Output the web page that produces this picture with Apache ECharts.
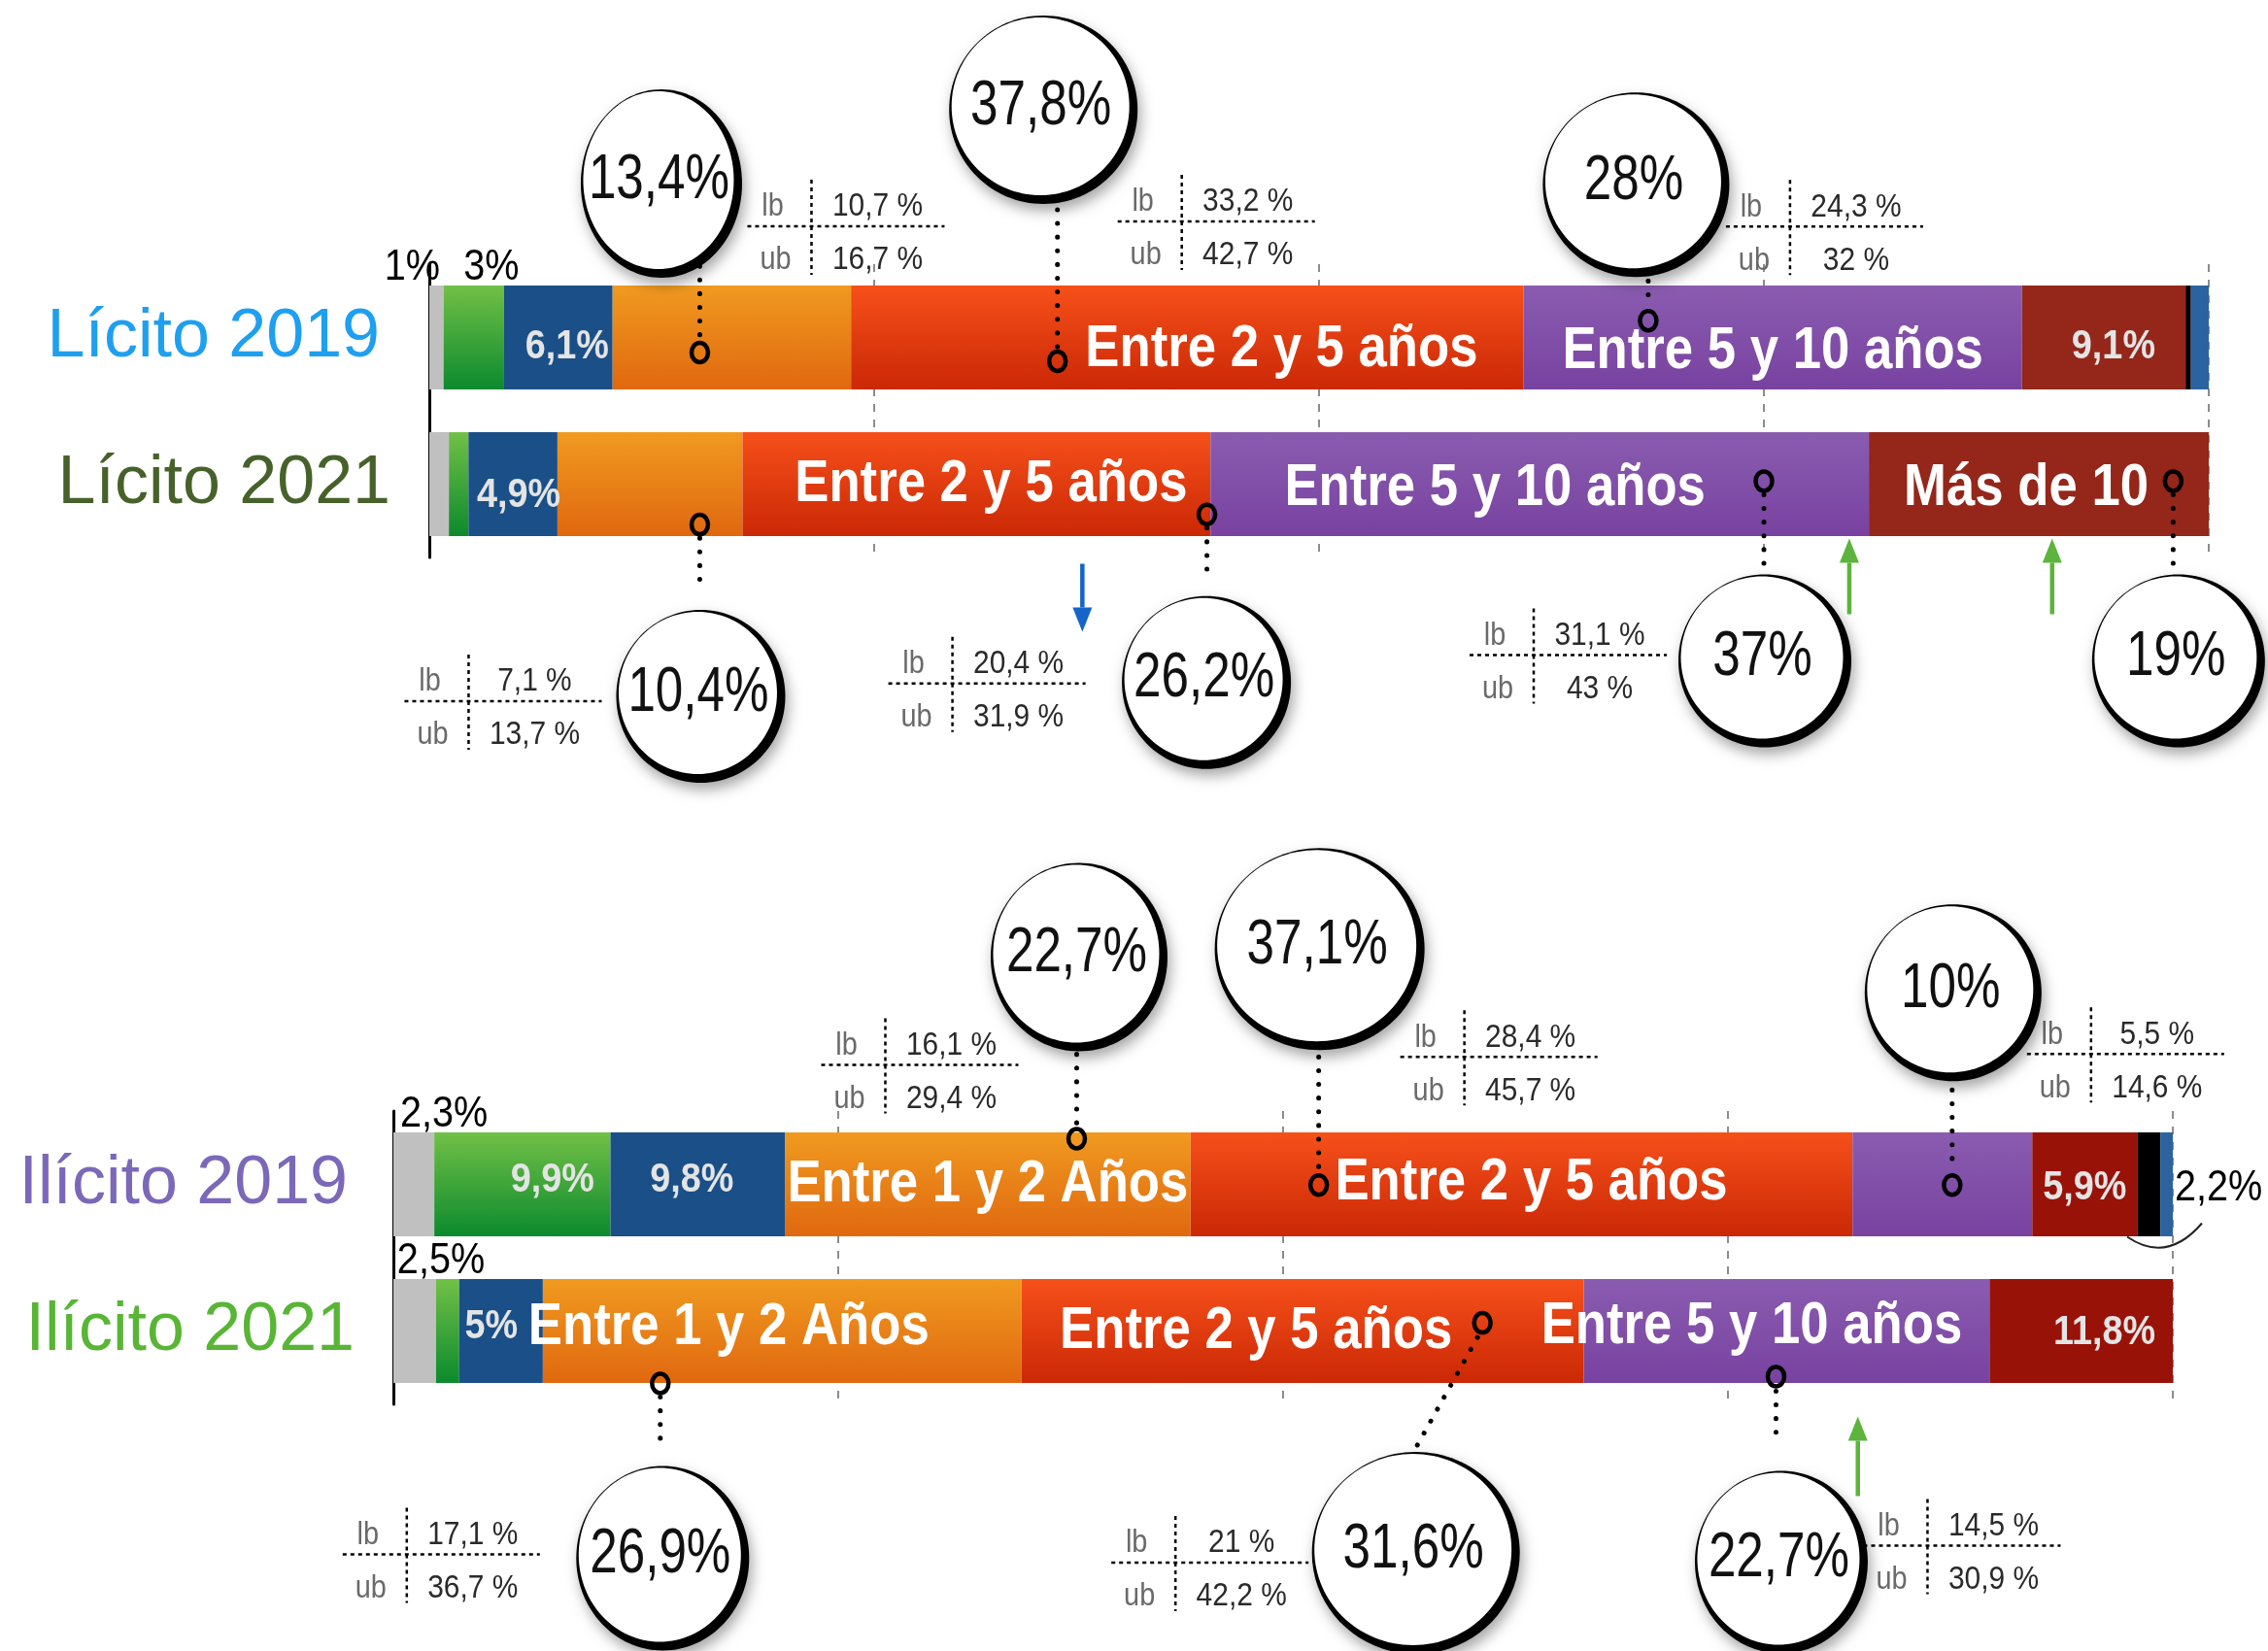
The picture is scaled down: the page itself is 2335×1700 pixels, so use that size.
<!DOCTYPE html>
<html><head><meta charset="utf-8">
<script src="https://cdn.jsdelivr.net/npm/echarts@6/dist/echarts.min.js"></script>
<style>html,body{margin:0;padding:0;background:#fff}#c{width:2335px;height:1700px}</style>
</head><body><div id="c"></div>
<script>
// ---------------- DATA ----------------
const segmentNames = ['Menos de 1 mes','Entre 1 y 6 meses','Entre 6 meses y 1 año','Entre 1 y 2 Años','Entre 2 y 5 años','Entre 5 y 10 años','Más de 10','Perpetua','Otro'];
const topCategories = ['Lícito 2019','Lícito 2021'];
const bottomCategories = ['Ilícito 2019','Ilícito 2021'];

const licito2019  = [0.8, 3.4, 6.1, 13.4, 37.8, 28.0, 9.2, 0.3, 1.0];
const licito2021  = [1.1, 1.1, 5.0, 10.4, 26.3, 37.0, 19.1, 0, 0];
const ilicito2019 = [2.3, 9.9, 9.8, 22.8, 37.2, 10.1, 5.9, 1.3, 0.7];
const ilicito2021 = [2.4, 1.3, 4.7, 26.9, 31.6, 22.8, 10.3, 0, 0];

const licito2019Labels  = ['1%','3%','6,1%','','Entre 2 y 5 años','Entre 5 y 10 años','9,1%','',''];
const licito2021Labels  = ['','','4,9%','','Entre 2 y 5 años','Entre 5 y 10 años','Más de 10','',''];
const ilicito2019Labels = ['2,3%','9,9%','9,8%','Entre 1 y 2 Años','Entre 2 y 5 años','','5,9%','','2,2%'];
const ilicito2021Labels = ['2,5%','','5%','Entre 1 y 2 Años','Entre 2 y 5 años','Entre 5 y 10 años','11,8%','',''];

// point estimates with lower / upper bounds
const topEstRow   = [0,0,0,1,1,1,1];
const topEstAt    = [15.2,35.3,68.5,15.2,43.7,75.0,98.0];
const topEstValue = ['13,4%','37,8%','28%','10,4%','26,2%','37%','19%'];
const topEstLb    = ['10,7 %','33,2 %','24,3 %','7,1 %','20,4 %','31,1 %',''];
const topEstUb    = ['16,7 %','42,7 %','32 %','13,7 %','31,9 %','43 %',''];

const bottomEstRow   = [0,0,0,1,1,1];
const bottomEstAt    = [38.4,52.0,87.6,15.0,61.2,77.7];
const bottomEstValue = ['22,7%','37,1%','10%','26,9%','31,6%','22,7%'];
const bottomEstLb    = ['16,1 %','28,4 %','5,5 %','17,1 %','21 %','14,5 %'];
const bottomEstUb    = ['29,4 %','45,7 %','14,6 %','36,7 %','42,2 %','30,9 %'];

// change arrows
const topArrowAt  = [36.7, 79.8, 91.2];
const topArrowRow = [1, 1, 1];
const bottomArrowAt  = [82.3];
const bottomArrowRow = [1];

// ---------------- STYLE / LAYOUT ----------------
const SANS = "'Liberation Sans','Helvetica Neue',Arial,sans-serif";
const BAR_W = 107;
function grad(a,b){return new echarts.graphic.LinearGradient(0,0,0,1,[{offset:0,color:a},{offset:1,color:b}]);}
const baseColors = ['#c0c0c0', grad('#72c046','#0b8a2e'), '#1a4f87', grad('#f09a20','#e0680f'),
  grad('#f6501a','#cb2806'), grad('#8a5cb0','#7842a0'), '#94261a', '#000000', '#2b63a0'];
const bottomColors = baseColors.slice(); bottomColors[6] = '#981208';

const labelStyles = {
  L19: {0:{k:'top',dx:-25},1:{k:'top',dx:18},2:{k:'pct',dx:9,dy:10},4:{k:'big',dx:97,dy:12},5:{k:'big',dx:0,dy:14},6:{k:'pct',dx:10,dy:10}},
  L21: {2:{k:'pct',dx:6,dy:12},4:{k:'big',dx:15,dy:0},5:{k:'big',dx:-46,dy:4},6:{k:'big',dx:-13,dy:4}},
  I19: {0:{k:'top',dx:31},1:{k:'pct',dx:31,dy:-4},2:{k:'pct',dx:-6,dy:-4},3:{k:'big',dx:0,dy:0},4:{k:'big',dx:10,dy:-2},6:{k:'pct',dx:0,dy:4},8:{k:'right',dy:4}},
  I21: {0:{k:'top',dx:27},2:{k:'pct',dx:-10,dy:-4},3:{k:'big',dx:-55,dy:-4},4:{k:'big',dx:-48,dy:0},5:{k:'big',dx:-36,dy:-5},6:{k:'pct',dx:24,dy:2}}
};
const labelKinds = {
  big:  {font:'bold 62px '+SANS, sx:0.85, fill:'#ffffff'},
  pct:  {font:'bold 42px '+SANS, sx:0.9,  fill:'#e4e4e4'},
  top:  {font:'44px '+SANS,      sx:0.9,  fill:'#000000'},
  right:{font:'44px '+SANS,      sx:0.9,  fill:'#000000'}
};

function buildBars(rows, gi, colors){
  return segmentNames.map((name, s) => ({
    type:'bar', name: name, stack:'g'+gi, xAxisIndex:gi, yAxisIndex:gi, barWidth:BAR_W,
    itemStyle:{color:colors[s]}, z:2,
    data: rows.map(r => r[s])
  }));
}
// segment extents [start, end, row, segment] derived from the values
function segmentExtents(rows){
  const out = [];
  rows.forEach((r, ri) => { let acc = 0; r.forEach((v, s) => { out.push([acc, acc+v, ri, s]); acc += v; }); });
  return out;
}
function segLabelRenderer(rowLabels, rowKeys){
  return function(params, api){
    const start = api.value(0), end = api.value(1), row = api.value(2), s = api.value(3);
    const text = rowLabels[row][s], st = labelStyles[rowKeys[row]][s];
    if(!text || !st) return null;
    const K = labelKinds[st.k];
    const c = api.coord([(start+end)/2, row]);
    const e = api.coord([end, row]);
    let x, y, align = 'center', va = 'middle';
    if(st.k === 'top'){ x = c[0] + (st.dx||0); y = c[1] - BAR_W/2 + 4; va = 'bottom'; }
    else if(st.k === 'right'){ x = e[0] + 2; y = c[1] + (st.dy||0); align = 'left'; }
    else { x = c[0] + (st.dx||0); y = c[1] + (st.dy||0); }
    return {type:'text', x:x, y:y, scaleX:K.sx, style:{text:text, x:0, y:0, align:align, verticalAlign:va, font:K.font, fill:K.fill}};
  };
}

const topEstLayout = [
  {my:15.5, c:[-42,-177,83,97], lead:[0,-103,0,-14], t:[115,-130]},
  {my:24.4, c:[-17,-262,97,97], lead:[0,-156,0,-14], t:[128,-144]},
  {my:-17.3,c:[-15,-143,96,95], lead:[0,-55,0,-14], t:[146,-97]},
  {my:41.6, c:[-1.5,174,87,89], lead:[0,14,0,64], t:[-238,182]},
  {my:31.2, c:[-3,170,87,89], lead:[0,14,0,65], t:[-262,174]},
  {my:-3.1, c:[-1.5,182,89,89], lead:[0,14,0,88], t:[-237,179]},
  {my:-3.1, c:[3,182,89,89], lead:[0,14,0,88], t:null}
];
const bottomEstLayout = [
  {my:-47, c:[0,-190,91,97], lead:[0,-101,0,-14], t:[-197,-76]},
  {my:0.7, c:[-1.5,-246,108,104], lead:[0,-146,0,-14], t:[150,-132]},
  {my:0.7, c:[-1.5,-201,91,91], lead:[0,-112,0,-14], t:[143,-135]},
  {my:54,  c:[0,177,89,95], lead:[0,14,0,64], t:[-261,176]},
  {my:-8.4,c:[-71,234,107,104], lead:[-5,15,-67,126], t:[-316,247]},
  {my:46.9,c:[3,188,89,94], lead:[0,15,0,60], t:[156,174]}
];
const topArrowLayout = [{tip:152, tail:82, color:'#1565c8'}, {tip:56, tail:134, color:'#5cb43c'}, {tip:56, tail:134, color:'#5cb43c'}];
const bottomArrowLayout = [{tip:88, tail:170, color:'#5cb43c'}];

function txt(text, x, y, font, fill, sx, align){
  return {type:'text', x:x, y:y, scaleX:sx, style:{text:text, x:0, y:0, align:align||'center', verticalAlign:'middle', font:font, fill:fill}};
}
function estRenderer(layout, values, lbs, ubs){
  return function(params, api){
    const i = params.dataIndex, L = layout[i];
    const p = api.coord([api.value(0), api.value(1)]);
    const mx = p[0], my = p[1] + L.my;
    const ch = [];
    ch.push({type:'line', shape:{x1:mx+L.lead[0], y1:my+L.lead[1], x2:mx+L.lead[2], y2:my+L.lead[3]},
      style:{stroke:'#000', lineWidth:5, lineDash:[0.1,14], lineCap:'round'}});
    if(L.t && lbs[i]){
      const tx = mx+L.t[0], ty = my+L.t[1];
      const ls = {stroke:'#000', lineWidth:2.5, lineDash:[4,4]};
      ch.push({type:'line', shape:{x1:tx, y1:ty-48, x2:tx, y2:ty+50}, style:ls});
      ch.push({type:'line', shape:{x1:tx-66, y1:ty, x2:tx+137, y2:ty}, style:ls});
      const f = '34px ' + SANS;
      ch.push(txt('lb', tx-40, ty-20, f, '#6a6a6a', 0.85));
      ch.push(txt('ub', tx-37, ty+35, f, '#6a6a6a', 0.85));
      ch.push(txt(lbs[i], tx+68, ty-20, f, '#2a2a2a', 0.88));
      ch.push(txt(ubs[i], tx+68, ty+35, f, '#2a2a2a', 0.88));
    }
    const cx = mx+L.c[0], cy = my+L.c[1], rx = L.c[2], ry = L.c[3];
    ch.push({type:'ellipse', shape:{cx:cx+2.5, cy:cy+3, rx:rx, ry:ry},
      style:{fill:'#000', shadowBlur:14, shadowColor:'rgba(0,0,0,0.35)', shadowOffsetX:3, shadowOffsetY:7}});
    ch.push({type:'ellipse', shape:{cx:cx-0.5, cy:cy-0.5, rx:rx-5.5, ry:ry-5.5}, style:{fill:'#fff'}});
    ch.push(txt(values[i], cx, cy, '64px '+SANS, '#111', 0.8));
    ch.push({type:'ellipse', shape:{cx:mx, cy:my, rx:8.5, ry:10}, style:{fill:'none', stroke:'#000', lineWidth:4.5}});
    return {type:'group', children:ch};
  };
}

function arrowRenderer(layout){
  return function(params, api){
    const L = layout[params.dataIndex];
    const p = api.coord([api.value(0), api.value(1)]);
    const x = p[0], tip = p[1]+L.tip, tail = p[1]+L.tail;
    const dir = tip > tail ? 1 : -1;
    const base = tip - dir*25;
    return {type:'group', children:[
      {type:'line', shape:{x1:x, y1:tail, x2:x, y2:base}, style:{stroke:L.color, lineWidth:4.5}},
      {type:'polygon', shape:{points:[[x-10,base],[x+10,base],[x,tip]]}, style:{fill:L.color}}
    ]};
  };
}

function bracketRenderer(params, api){
  const p = api.coord([api.value(0), api.value(1)]);
  return {type:'bezierCurve', shape:{x1:p[0]-47, y1:p[1]+54, cpx1:p[0]-6, cpy1:p[1]+82, x2:p[0]+30, y2:p[1]+40},
    style:{stroke:'#222', lineWidth:2, fill:'none'}};
}

function xAx(gi){
  return {type:'value', gridIndex:gi, min:0, max:100, interval:25,
    axisLine:{show:false}, axisTick:{show:false}, axisLabel:{show:false},
    splitLine:{show:true, lineStyle:{color:'#8c8c8c', width:2, type:[8,8]}}};
}
function yAx(gi, cats, rich){
  return {type:'category', gridIndex:gi, data:cats, inverse:true,
    axisLine:{show:true, onZero:false, lineStyle:{color:'#000', width:3}}, axisTick:{show:false},
    splitLine:{show:false},
    axisLabel:{margin:40, formatter:(v,i)=>'{r'+i+'|'+v+'}', rich:rich}};
}
function customSeries(name, gi, data, renderItem, encode){
  return {type:'custom', name:name, xAxisIndex:gi, yAxisIndex:gi, z:10, clip:false,
    encode: encode || {x:0, y:1}, data:data, renderItem:renderItem};
}

const chart = echarts.init(document.getElementById('c'), null, {renderer:'canvas'});
const option = {
  animation:false,
  backgroundColor:'#ffffff',
  grid:[
    {left:442, width:1832, top:272, height:302},
    {left:405, width:1832, top:1144, height:302}
  ],
  xAxis:[xAx(0), xAx(1)],
  yAxis:[
    yAx(0, topCategories, {
      r0:{color:'#1e9ff0', fontSize:70, fontFamily:SANS, padding:[0,11,0,0]},
      r1:{color:'#46622a', fontSize:70, fontFamily:SANS}
    }),
    yAx(1, bottomCategories, {
      r0:{color:'#7b68b9', fontSize:70, fontFamily:SANS, padding:[0,7,0,0]},
      r1:{color:'#58b535', fontSize:70, fontFamily:SANS}
    })
  ],
  series: [].concat(
    buildBars([licito2019, licito2021], 0, baseColors),
    buildBars([ilicito2019, ilicito2021], 1, bottomColors),
    [
      customSeries('labels-top', 0, segmentExtents([licito2019, licito2021]),
        segLabelRenderer([licito2019Labels, licito2021Labels], ['L19','L21']), {x:[0,1], y:2}),
      customSeries('labels-bottom', 1, segmentExtents([ilicito2019, ilicito2021]),
        segLabelRenderer([ilicito2019Labels, ilicito2021Labels], ['I19','I21']), {x:[0,1], y:2}),
      customSeries('est-top', 0, topEstAt.map((v,i)=>[v, topEstRow[i]]), estRenderer(topEstLayout, topEstValue, topEstLb, topEstUb)),
      customSeries('est-bottom', 1, bottomEstAt.map((v,i)=>[v, bottomEstRow[i]]), estRenderer(bottomEstLayout, bottomEstValue, bottomEstLb, bottomEstUb)),
      customSeries('arrows-top', 0, topArrowAt.map((v,i)=>[v, topArrowRow[i]]), arrowRenderer(topArrowLayout)),
      customSeries('arrows-bottom', 1, bottomArrowAt.map((v,i)=>[v, bottomArrowRow[i]]), arrowRenderer(bottomArrowLayout)),
      customSeries('bracket', 1, [[100, 0]], bracketRenderer)
    ]
  )
};
chart.setOption(option);
</script></body></html>
